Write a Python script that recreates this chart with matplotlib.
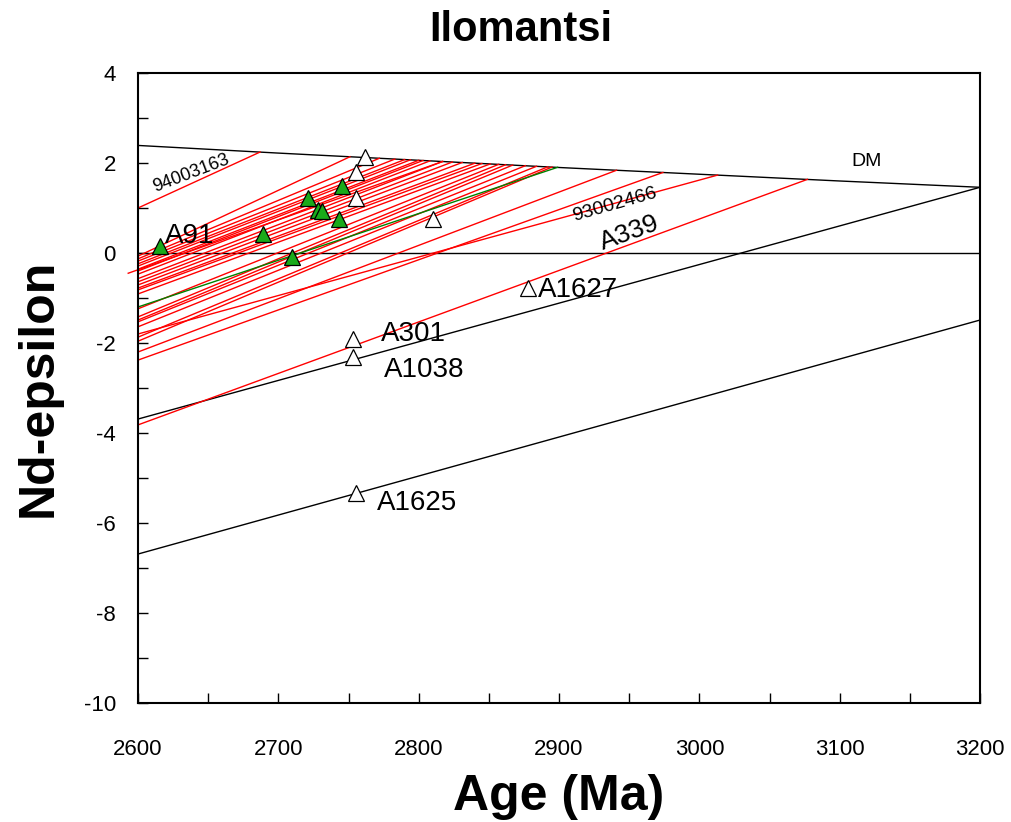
import matplotlib
matplotlib.use('Agg')
import matplotlib.pyplot as plt
from matplotlib.ticker import MultipleLocator

plt.rcParams['font.family'] = ['Liberation Sans', 'DejaVu Sans']
plt.rcParams['axes.unicode_minus'] = False

# depleted mantle curve
DM_AGE = [2600, 2700, 2800, 2900, 3000, 3100, 3200]
DM_EPS = [2.39, 2.22, 2.06, 1.90, 1.75, 1.60, 1.46]

# black evolution lines (white triangle samples)
BLACK_AGE = [[2600, 3200], [2600, 3200]]
BLACK_EPS = [[-3.69, 1.46], [-6.69, -1.49]]

# red evolution lines: start eps at 2600 Ma, end where they meet DM
RED_START_AGE = [2600] * 26 + [2593]
RED_START_EPS = [1.00, -0.07, -0.13, -0.18, -0.24, -0.29, -0.36, -0.40, -0.47,
                 -0.57, -0.64, -0.71, -0.78, -0.82, -0.91, -1.24, -1.42, -1.49,
                 -1.53, -1.64, -1.87, -1.96, -2.20, -2.38, -1.80, -3.82, -0.45]
RED_END_AGE = [2687, 2751, 2772, 2783, 2790, 2794, 2800, 2803, 2808,
               2817, 2824, 2831, 2840, 2845, 2851, 2857, 2862, 2867,
               2876, 2884, 2892, 2895, 2941, 2974, 3013, 3077, 2817]
RED_END_EPS = [2.244, 2.139, 2.105, 2.087, 2.076, 2.070, 2.060, 2.055, 2.047,
               2.033, 2.022, 2.011, 1.996, 1.988, 1.979, 1.970, 1.962, 1.954,
               1.940, 1.927, 1.915, 1.910, 1.839, 1.789, 1.731, 1.636, 2.033]

# green evolution line
GREEN_AGE = [2600, 2899]
GREEN_EPS = [-1.20, 1.904]

# samples
GREEN_X = [2616, 2689, 2710, 2721, 2728, 2731, 2745, 2743]
GREEN_Y = [0.15, 0.42, -0.09, 1.22, 0.95, 0.93, 1.49, 0.76]
WHITE_X = [2762, 2755, 2755, 2810, 2753, 2753, 2878, 2755]
WHITE_Y = [2.13, 1.80, 1.22, 0.76, -1.91, -2.31, -0.78, -5.33]

LABELS = ['A91', 'A301', 'A1038', 'A1627', 'A1625']
LABEL_X = [2619, 2773, 2775, 2885, 2770]
LABEL_Y = [0.38, -1.8, -2.6, -0.83, -5.55]


def main():
    fig = plt.figure(figsize=(10.12, 8.22), dpi=100)
    ax = fig.add_axes([0.1364, 0.1448, 0.832, 0.7664])

    ax.plot(DM_AGE, DM_EPS, color='black', lw=1.0)
    ax.axhline(0, color='black', lw=1.0)
    for xs, ys in zip(BLACK_AGE, BLACK_EPS):
        ax.plot(xs, ys, color='black', lw=1.0)
    for x0, y0, x1, y1 in zip(RED_START_AGE, RED_START_EPS, RED_END_AGE, RED_END_EPS):
        ax.plot([x0, x1], [y0, y1], color='#ff0000', lw=1.0, clip_on=(x0 >= 2600))
    ax.plot(GREEN_AGE, GREEN_EPS, color='#008000', lw=1.0)

    ax.plot(WHITE_X, WHITE_Y, '^', ms=12, mfc='white', mec='black', mew=0.9, zorder=5)
    ax.plot(GREEN_X, GREEN_Y, '^', ms=12, mfc='#1aaa1a', mec='black', mew=0.9, zorder=5)

    for t, x, y in zip(LABELS, LABEL_X, LABEL_Y):
        ax.text(x, y, t, fontsize=20, ha='left', va='center')
    ax.text(2950, 0.45, 'A339', fontsize=19, rotation=20, ha='center', va='center')
    ax.text(2940, 1.07, '93002466', fontsize=14, rotation=16, ha='center', va='center')
    ax.text(2638, 1.76, '94003163', fontsize=13, rotation=21, ha='center', va='center')
    ax.text(3119, 2.03, 'DM', fontsize=14, ha='center', va='center')

    ax.set_xlim(2600, 3200)
    ax.set_ylim(-10, 4)
    ax.xaxis.set_major_locator(MultipleLocator(100))
    ax.xaxis.set_minor_locator(MultipleLocator(50))
    ax.yaxis.set_major_locator(MultipleLocator(2))
    ax.yaxis.set_minor_locator(MultipleLocator(1))
    ax.tick_params(which='both', direction='in', length=7, width=1.0,
                   top=False, right=False, labelsize=16)
    ax.tick_params(axis='x', pad=26)
    ax.tick_params(axis='y', pad=16)
    for s in ax.spines.values():
        s.set_linewidth(1.5)

    fig.text(0.515, 0.963, 'Ilomantsi', fontsize=30, fontweight='bold',
             ha='center', va='center')
    ax.set_xlabel('Age (Ma)', fontsize=36, fontweight='bold', labelpad=10)
    ax.set_ylabel('Nd-epsilon', fontsize=36, fontweight='bold', labelpad=16)

    fig.savefig('out.png', dpi=100, facecolor='w')
    plt.close('all')


if __name__ == '__main__':
    main()
